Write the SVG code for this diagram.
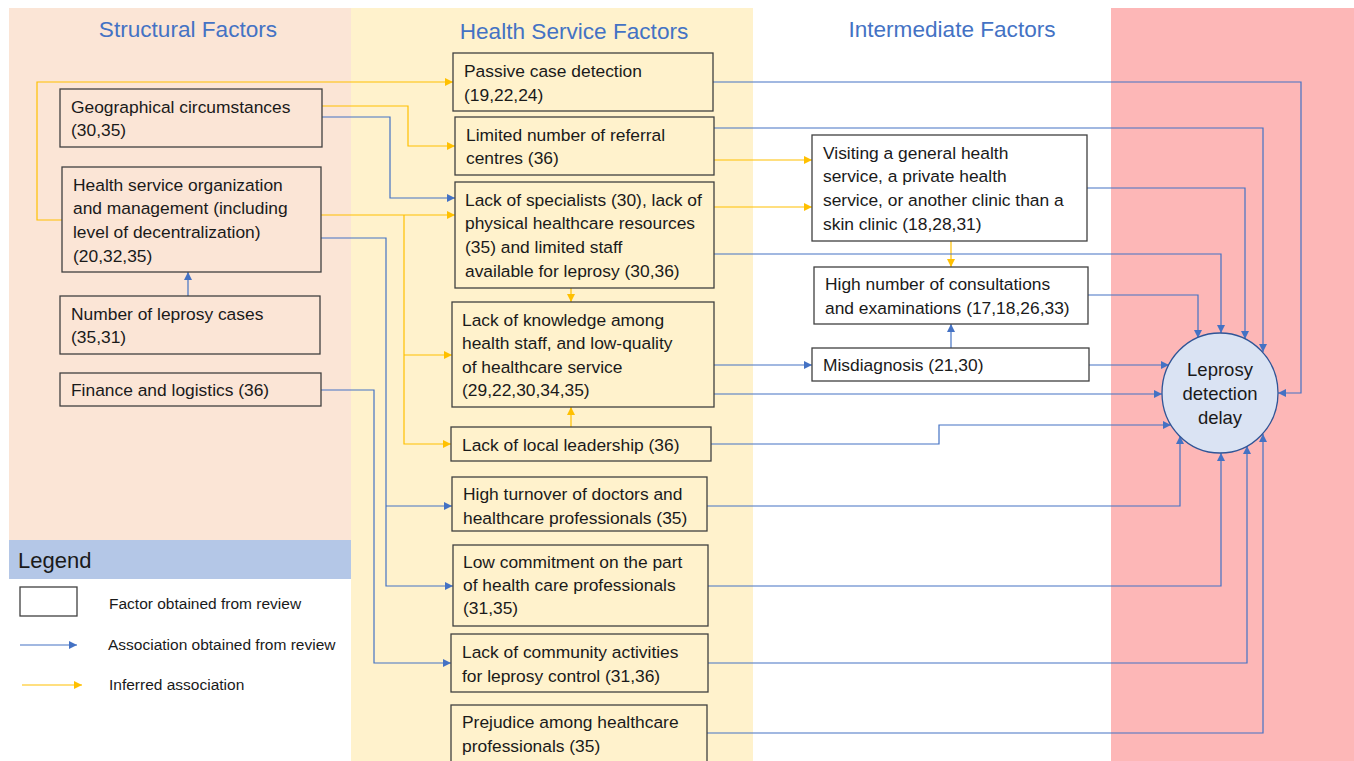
<svg xmlns="http://www.w3.org/2000/svg" width="1354" height="761" viewBox="0 0 1354 761">
<defs>
<style>
.bx{fill:none;stroke:#404040;stroke-width:1.3}
.t{font-family:"Liberation Sans",Arial,sans-serif;font-size:17.4px;fill:#1a1a1a}
.h{font-family:"Liberation Sans",Arial,sans-serif;font-size:22.6px;fill:#4472C4;text-anchor:middle}
.bl{fill:none;stroke:#4472C4;stroke-width:1.2}
.yl{fill:none;stroke:#FFC000;stroke-width:1.2}
.ab{marker-end:url(#ab)}
.ay{marker-end:url(#ay)}
.lg{font-family:"Liberation Sans",Arial,sans-serif;font-size:15.5px;fill:#1a1a1a}
</style>
<marker id="ab" markerUnits="userSpaceOnUse" markerWidth="9" markerHeight="9" refX="8" refY="4" orient="auto"><path d="M0,0 L8,4 L0,8 z" fill="#4472C4"/></marker>
<marker id="ay" markerUnits="userSpaceOnUse" markerWidth="9" markerHeight="9" refX="8" refY="4" orient="auto"><path d="M0,0 L8,4 L0,8 z" fill="#FFC000"/></marker>
</defs>
<rect width="1354" height="761" fill="#ffffff"/>
<g id="backgrounds">
<rect x="9" y="8" width="342" height="532" fill="#FBE5D6"/>
<rect x="9" y="540" width="342" height="39" fill="#B4C7E7"/>
<rect x="351" y="8" width="402" height="753" fill="#FFF2CC"/>
<rect x="1111" y="8" width="243" height="753" fill="#FDB7B7"/>
</g>
<g id="headers">
<text class="h" x="188" y="37">Structural Factors</text>
<text class="h" x="574" y="39">Health Service Factors</text>
<text class="h" x="952" y="37">Intermediate Factors</text>
</g>
<g id="connectors">
<path class="yl ay" d="M62,220 H37 V82 H453"/>
<path class="yl ay" d="M322,106 H408 V146 H455"/>
<path class="yl ay" d="M321,215 H455"/>
<path class="yl ay" d="M404,215 V444 H451"/>
<path class="yl ay" d="M404,355 H452"/>
<path class="yl ay" d="M571,288 V302"/>
<path class="yl ay" d="M571,427 V407"/>
<path class="yl ay" d="M714,160 H812"/>
<path class="yl ay" d="M714,207 H812"/>
<path class="yl ay" d="M951,241 V267"/>
<path class="bl ab" d="M322,117 H390 V198 H455"/>
<path class="bl ab" d="M321,238 H386 V586 H453"/>
<path class="bl ab" d="M386,506 H452"/>
<path class="bl ab" d="M321,390 H374 V663 H451"/>
<path class="bl ab" d="M188,296 V272"/>
<path class="bl ab" d="M714,365 H812"/>
<path class="bl ab" d="M951,348 V324"/>
<path class="bl ab" d="M713,82 H1301 V393 H1278"/>
<path class="bl ab" d="M714,128 H1263 V352"/>
<path class="bl ab" d="M1087,188 H1245 V339"/>
<path class="bl ab" d="M714,254 H1221 V333"/>
<path class="bl ab" d="M1088,295 H1198 V338"/>
<path class="bl ab" d="M1089,365 H1169"/>
<path class="bl ab" d="M714,394 H1162"/>
<path class="bl ab" d="M711,444 H939 V425 H1171"/>
<path class="bl ab" d="M707,506 H1180 V436"/>
<path class="bl ab" d="M708,586 H1221 V453"/>
<path class="bl ab" d="M708,663 H1247 V446"/>
<path class="bl ab" d="M707,733 H1263 V434"/>
</g>
<g id="n-geo"><rect class="bx" x="60" y="89" width="262" height="58"/>
<text class="t" x="71" y="113">Geographical circumstances</text><text class="t" x="71" y="136">(30,35)</text></g>
<g id="n-org"><rect class="bx" x="62" y="167" width="259" height="105"/>
<text class="t" x="73" y="191">Health service organization</text><text class="t" x="73" y="214">and management (including</text><text class="t" x="73" y="238">level of decentralization)</text><text class="t" x="73" y="262">(20,32,35)</text></g>
<g id="n-cases"><rect class="bx" x="60" y="296" width="260" height="58"/>
<text class="t" x="71" y="320">Number of leprosy cases</text><text class="t" x="71" y="343">(35,31)</text></g>
<g id="n-finance"><rect class="bx" x="60" y="373" width="261" height="33"/>
<text class="t" x="71" y="396">Finance and logistics (36)</text></g>
<g id="n-passive"><rect class="bx" x="453" y="53" width="260" height="58"/>
<text class="t" x="464" y="77">Passive case detection</text><text class="t" x="464" y="101">(19,22,24)</text></g>
<g id="n-referral"><rect class="bx" x="455" y="117" width="259" height="58"/>
<text class="t" x="466" y="141">Limited number of referral</text><text class="t" x="466" y="164">centres (36)</text></g>
<g id="n-specialists"><rect class="bx" x="455" y="182" width="259" height="106"/>
<text class="t" x="465" y="206">Lack of specialists (30), lack of</text><text class="t" x="465" y="229">physical healthcare resources</text><text class="t" x="465" y="253">(35) and limited staff</text><text class="t" x="465" y="277">available for leprosy (30,36)</text></g>
<g id="n-knowledge"><rect class="bx" x="452" y="302" width="262" height="105"/>
<text class="t" x="462" y="326">Lack of knowledge among</text><text class="t" x="462" y="349">health staff, and low-quality</text><text class="t" x="462" y="373">of healthcare service</text><text class="t" x="462" y="396">(29,22,30,34,35)</text></g>
<g id="n-leadership"><rect class="bx" x="451" y="427" width="260" height="34"/>
<text class="t" x="462" y="451">Lack of local leadership (36)</text></g>
<g id="n-turnover"><rect class="bx" x="452" y="477" width="255" height="54"/>
<text class="t" x="463" y="500">High turnover of doctors and</text><text class="t" x="463" y="524">healthcare professionals (35)</text></g>
<g id="n-commitment"><rect class="bx" x="453" y="545" width="255" height="81"/>
<text class="t" x="463" y="568">Low commitment on the part</text><text class="t" x="463" y="591">of health care professionals</text><text class="t" x="463" y="614">(31,35)</text></g>
<g id="n-community"><rect class="bx" x="451" y="634" width="257" height="58"/>
<text class="t" x="462" y="658">Lack of community activities</text><text class="t" x="462" y="682">for leprosy control (31,36)</text></g>
<g id="n-prejudice"><rect class="bx" x="451" y="705" width="256" height="60"/>
<text class="t" x="462" y="728">Prejudice among healthcare</text><text class="t" x="462" y="752">professionals (35)</text></g>
<g id="n-visiting"><rect class="bx" x="812" y="135" width="275" height="106" fill="#fff"/>
<text class="t" x="823" y="159">Visiting a general health</text><text class="t" x="823" y="182">service, a private health</text><text class="t" x="823" y="206">service, or another clinic than a</text><text class="t" x="823" y="230">skin clinic (18,28,31)</text></g>
<g id="n-consult"><rect class="bx" x="814" y="267" width="274" height="57"/>
<text class="t" x="825" y="290">High number of consultations</text><text class="t" x="825" y="314">and examinations (17,18,26,33)</text></g>
<g id="n-misdiag"><rect class="bx" x="812" y="348" width="277" height="33"/>
<text class="t" x="823" y="371">Misdiagnosis (21,30)</text></g>
<g id="n-delay"><ellipse cx="1220" cy="393" rx="58" ry="60" fill="#DAE3F3" stroke="#2F5597" stroke-width="1.3"/>
<text class="t" x="1220" y="376" text-anchor="middle" style="font-size:18.5px">Leprosy</text><text class="t" x="1220" y="400" text-anchor="middle" style="font-size:18.5px">detection</text><text class="t" x="1220" y="424" text-anchor="middle" style="font-size:18.5px">delay</text></g>
<g id="legend">
<text x="18" y="568" font-family="Liberation Sans, Arial, sans-serif" font-size="22" fill="#1a1a1a">Legend</text>
<rect class="bx" x="20" y="587" width="57" height="29"/>
<text class="lg" x="109" y="609">Factor obtained from review</text>
<path class="bl ab" d="M20,645 H77"/>
<text class="lg" x="108" y="650">Association obtained from review</text>
<path class="yl ay" d="M22,685 H82"/>
<text class="lg" x="109" y="690">Inferred association</text>
</g>
</svg>
